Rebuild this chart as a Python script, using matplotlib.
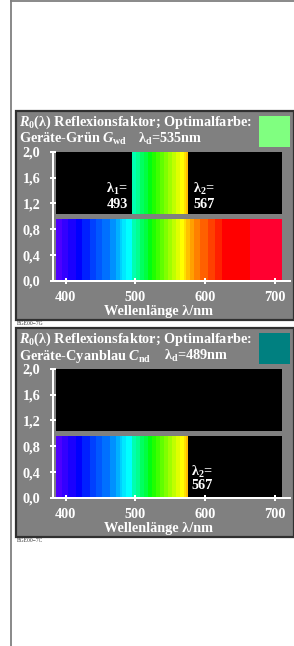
import matplotlib
matplotlib.use("Agg")
import matplotlib.pyplot as plt
from matplotlib.patches import Rectangle

plt.rcParams['font.family'] = ['Liberation Serif', 'DejaVu Serif']
plt.rcParams['font.weight'] = 'bold'
plt.rcParams['mathtext.fontset'] = 'custom'
plt.rcParams['mathtext.rm'] = 'Liberation Serif:bold'
plt.rcParams['mathtext.it'] = 'Liberation Serif:italic:bold'
plt.rcParams['mathtext.bf'] = 'Liberation Serif:bold'

# ---------------- data ----------------
band_edges = [386, 395, 403, 415, 423, 435, 443, 452, 463, 472, 478, 481, 486, 495,
              501, 506, 512, 518, 524, 529, 535, 541, 547, 552, 558, 564, 570, 572,
              578, 584, 592, 604, 614, 624, 664, 710]
band_colors = ['#4d00ff', '#3300ff', '#1a00ff', '#0000ff', '#0020ff', '#0040ff', '#0058ff',
               '#0070ff', '#0090ff', '#00b0ff', '#00d0ff', '#00e8ff', '#00ffff', '#00ffb0',
               '#00ff90', '#00ff60', '#00ff40', '#00ff10', '#20ff00', '#40ff00', '#60ff00',
               '#80ff00', '#a0ff00', '#c0ff00', '#e0ff00', '#ffff00', '#ffe000', '#ffc000',
               '#ffa000', '#ff8000', '#ff6000', '#ff4000', '#ff2000', '#ff0000', '#ff0030']

x_ticks = [400, 500, 600, 700]
y_ticks = [0.0, 0.4, 0.8, 1.2, 1.6, 2.0]
y_tick_labels = ['0,0', '0,4', '0,8', '1,2', '1,6', '2,0']

lower_top = 0.96     # lower half (reflectance R<=1)
upper_bottom = 1.04  # upper half (1<R<=2)
upper_top = 2.0

panel_names = ['Geräte-Grün', 'Geräte-Cyanblau']
panel_symbols = [r'$\mathit{G}_{\mathrm{wd}}$', r'$\mathit{C}_{\mathrm{nd}}$']
lambda_d = [535, 489]
swatch_colors = ['#80ff80', '#008080']
codes = ['BGE00−7G', 'BGE00−7C']
# band shown in the upper part (lo, hi) or None; band shown in the lower part (lo, hi)
upper_band = [(495, 575), None]
lower_band = [(386, 710), (386, 575)]
lam1_text = ['493', None]
lam2_text = ['567', '567']

# ---------------- figure ----------------
W, H = 294, 646
fig = plt.figure(figsize=(W / 100, H / 100), dpi=100)
fig.patch.set_facecolor('white')

bg = fig.add_axes([0, 0, 1, 1])
bg.set_xlim(0, W)
bg.set_ylim(H, 0)
bg.axis('off')

# frame lines of the page
bg.plot([11, 11], [0, H], color='#808080', lw=1.3)
bg.plot([11, W], [0.6, 0.6], color='#808080', lw=1.3)

GRAY = '#808080'
panel_tops = [111, 328]
PX = 0.72  # points per pixel
FS = 10.3

def draw_bars(ax, lo, hi, bottom, top):
    for i, c in enumerate(band_colors):
        a, b = max(band_edges[i], lo), min(band_edges[i + 1], hi)
        if b > a:
            ax.bar(a, top - bottom, width=b - a, bottom=bottom, align='edge',
                   color=c, linewidth=0)

for p in range(2):
    t = panel_tops[p]
    bg.add_patch(Rectangle((16, t), 277.5, 209, facecolor=GRAY, edgecolor='#303030',
                           lw=1.6, zorder=1))
    bg.add_patch(Rectangle((259, t + 5), 31, 30.7, facecolor=swatch_colors[p],
                           edgecolor='none', zorder=2))
    bg.text(19, t + 14.7, r'$\mathit{R}_{\mathrm{0}}$(λ) Reflexionsfaktor; Optimalfarbe:',
            color='white', fontsize=FS, va='baseline', ha='left', zorder=3)
    bg.text(19, t + 31.7, panel_names[p] + ' ' + panel_symbols[p], color='white',
            fontsize=FS, va='baseline', ha='left', zorder=3)
    bg.text(138 if p == 0 else 164, t + 31.7, r'λ$_{\mathrm{d}}$=%dnm' % lambda_d[p],
            color='white', fontsize=FS, va='baseline', ha='left', zorder=3)
    bg.text(17, t + 212.5, codes[p], color='#333333', fontsize=4, va='center',
            ha='left', family='Liberation Serif', weight='normal')
    bg.text(158, t + 200.7, 'Wellenlänge λ/nm', color='white', fontsize=FS,
            ha='center', va='center', zorder=3)

    # chart axes
    top_px, bot_px = t + 40.7, t + 170
    ax = fig.add_axes([53 / W, 1 - bot_px / H, 237 / W, (bot_px - top_px) / H])
    ax.set_facecolor('none')
    ax.set_xlim(381.8, 721.5)
    ax.set_ylim(0, 2.0)
    for s in ['top', 'right']:
        ax.spines[s].set_visible(False)
    for s in ['left', 'bottom']:
        ax.spines[s].set_color('white')
        ax.spines[s].set_linewidth(2 * PX)
        ax.spines[s].set_zorder(5)
    ax.set_xticks(x_ticks)
    ax.set_xticklabels([str(v) for v in x_ticks])
    ax.set_yticks(y_ticks)
    ax.set_yticklabels(y_tick_labels)
    ax.tick_params(direction='inout', length=6 * PX, width=2 * PX, color='white',
                   labelcolor='white', labelsize=FS)
    ax.tick_params(axis='y', pad=7)
    ax.tick_params(axis='x', pad=5)

    # upper part: black with optional colour band
    ax.bar(band_edges[0], upper_top - upper_bottom, width=band_edges[-1] - band_edges[0],
           bottom=upper_bottom, align='edge', color='black', linewidth=0)
    if upper_band[p] is not None:
        draw_bars(ax, upper_band[p][0], upper_band[p][1], upper_bottom, upper_top)
    # lower part: black with colour band
    ax.bar(band_edges[0], lower_top, width=band_edges[-1] - band_edges[0],
           bottom=0, align='edge', color='black', linewidth=0)
    draw_bars(ax, lower_band[p][0], lower_band[p][1], 0, lower_top)

    if p == 0:
        ax.text(489, 1.42, r'λ$_{\mathrm{1}}$=', color='white', fontsize=FS,
                ha='right', va='center')
        ax.text(489, 1.19, lam1_text[p], color='white', fontsize=FS, ha='right', va='center')
        ax.text(583, 1.42, r'λ$_{\mathrm{2}}$=', color='white', fontsize=FS,
                ha='left', va='center')
        ax.text(583, 1.19, lam2_text[p], color='white', fontsize=FS, ha='left', va='center')
    else:
        ax.text(580, 0.41, r'λ$_{\mathrm{2}}$=', color='white', fontsize=FS,
                ha='left', va='center')
        ax.text(580, 0.2, lam2_text[p], color='white', fontsize=FS, ha='left', va='center')

fig.savefig('out.png', dpi=100, facecolor='white')
